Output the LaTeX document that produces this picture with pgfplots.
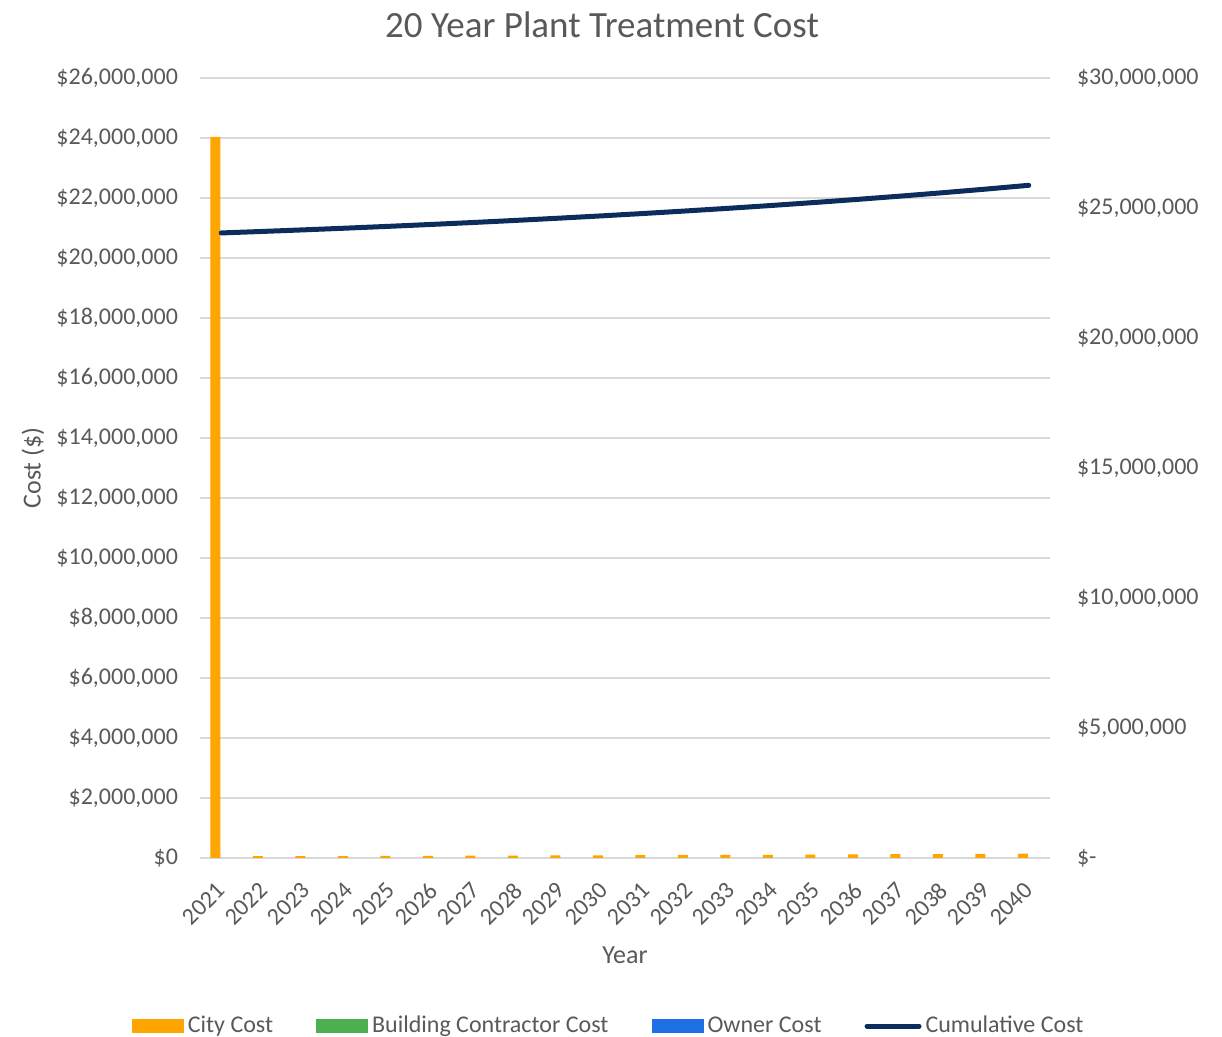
\documentclass[border=0pt]{standalone}
\usepackage{fontspec}
\setmainfont{Carlito}
\usepackage{pgfplots}
\pgfplotsset{compat=1.18}
\definecolor{cityorange}{HTML}{FFA500}
\definecolor{bldgreen}{HTML}{4CAF50}
\definecolor{ownblue}{HTML}{1E6FE6}
\definecolor{cumnavy}{HTML}{0A2D5E}
\definecolor{gridgray}{HTML}{D9D9D9}
\definecolor{txtgray}{HTML}{595959}
\pgfplotsset{
  barleg/.style={legend image code/.code={\fill[##1] (0pt,-3.5pt) rectangle (26pt,3.5pt);}},
  lineleg/.style={legend image code/.code={\draw[##1] (0pt,0pt) -- (26pt,0pt);}},
}
\begin{document}
\begin{tikzpicture}
\useasboundingbox (0,0) rectangle (611pt,518.5pt);
\begin{axis}[
  at={(100pt,89.5pt)}, anchor=south west,
  scale only axis, width=425pt, height=390pt,
  xmin=-0.5, xmax=19.5, ymin=0, ymax=26000000,
  scaled y ticks=false,
  xtick={0,...,19},
  xticklabels={2021,2022,2023,2024,2025,2026,2027,2028,2029,2030,2031,2032,2033,2034,2035,2036,2037,2038,2039,2040},
  ytick={0,2000000,4000000,6000000,8000000,10000000,12000000,14000000,16000000,18000000,20000000,22000000,24000000,26000000},
  yticklabels={\$0,{\$2,000,000},{\$4,000,000},{\$6,000,000},{\$8,000,000},{\$10,000,000},{\$12,000,000},{\$14,000,000},{\$16,000,000},{\$18,000,000},{\$20,000,000},{\$22,000,000},{\$24,000,000},{\$26,000,000}},
  axis x line=bottom, axis y line=left,
  x axis line style={draw=gridgray, line width=0.75pt, -},
  y axis line style={draw=none},
  major tick length=0pt,
  ymajorgrids, grid style={gridgray, line width=0.75pt},
  tick label style={font=\fontsize{12}{14}\selectfont, text=txtgray},
  yticklabel style={xshift=-7.5pt},
  xticklabel style={xshift=-3pt, yshift=-6.5pt, rotate=45, anchor=north east},
  title={20 Year Plant Treatment Cost},
  title style={at={(axis description cs:0.473,1.068)}, anchor=center, yshift=-6pt, font=\fontsize{18.5}{20}\selectfont, text=txtgray},
  xlabel={Year},
  xlabel style={at={(axis description cs:0.5,-0.1244)}, anchor=center, font=\fontsize{13}{15}\selectfont, text=txtgray},
  ylabel={Cost (\$)},
  ylabel style={at={(axis description cs:-0.1965,0.5)}, anchor=center, font=\fontsize{13}{15}\selectfont, text=txtgray},
  legend style={at={(0.482,-0.2155)}, anchor=center, draw=none, fill=none,
    font=\fontsize{12}{14}\selectfont, text=txtgray,
    /tikz/every even column/.append style={column sep=19.5pt}},
  legend columns=4,
  legend cell align=left,
]
\addplot[ybar, bar width=5pt, bar shift=-3pt, fill=cityorange, draw=none, barleg]
  coordinates {(0,24040000) (1,60000) (2,63000) (3,66150) (4,69458) (5,72930) (6,76577) (7,80406) (8,84426) (9,88647) (10,93080) (11,97734) (12,102620) (13,107751) (14,113139) (15,118796) (16,124736) (17,130972) (18,137521) (19,144397)};
\addlegendentry{City Cost}
\addlegendimage{fill=bldgreen, draw=none, barleg}
\addlegendentry{Building Contractor Cost}
\addlegendimage{fill=ownblue, draw=none, barleg}
\addlegendentry{Owner Cost}
\addlegendimage{cumnavy, line width=2.5pt, line cap=round, lineleg}
\addlegendentry{Cumulative Cost}
\end{axis}
\begin{axis}[
  at={(100pt,89.5pt)}, anchor=south west,
  scale only axis, width=425pt, height=390pt,
  xmin=-0.5, xmax=19.5, ymin=0, ymax=30000000,
  scaled y ticks=false,
  axis x line=none, axis y line*=right,
  y axis line style={draw=none},
  major tick length=0pt,
  ytick={0,5000000,10000000,15000000,20000000,25000000,30000000},
  yticklabels={\$-,{\$5,000,000},{\$10,000,000},{\$15,000,000},{\$20,000,000},{\$25,000,000},{\$30,000,000}},
  tick label style={font=\fontsize{12}{14}\selectfont, text=txtgray},
  yticklabel style={xshift=10pt, anchor=west},
]
\addplot[cumnavy, line width=2.5pt, line cap=round, line join=round] coordinates {
(0,24040000) (1,24100000) (2,24163000) (3,24229150) (4,24298608) (5,24371538) (6,24448115) (7,24528521) (8,24612947) (9,24701594) (10,24794674) (11,24892408) (12,24995028) (13,25102779) (14,25215918) (15,25334714) (16,25459450) (17,25590422) (18,25727943) (19,25872340)};
\end{axis}
\end{tikzpicture}
\end{document}
